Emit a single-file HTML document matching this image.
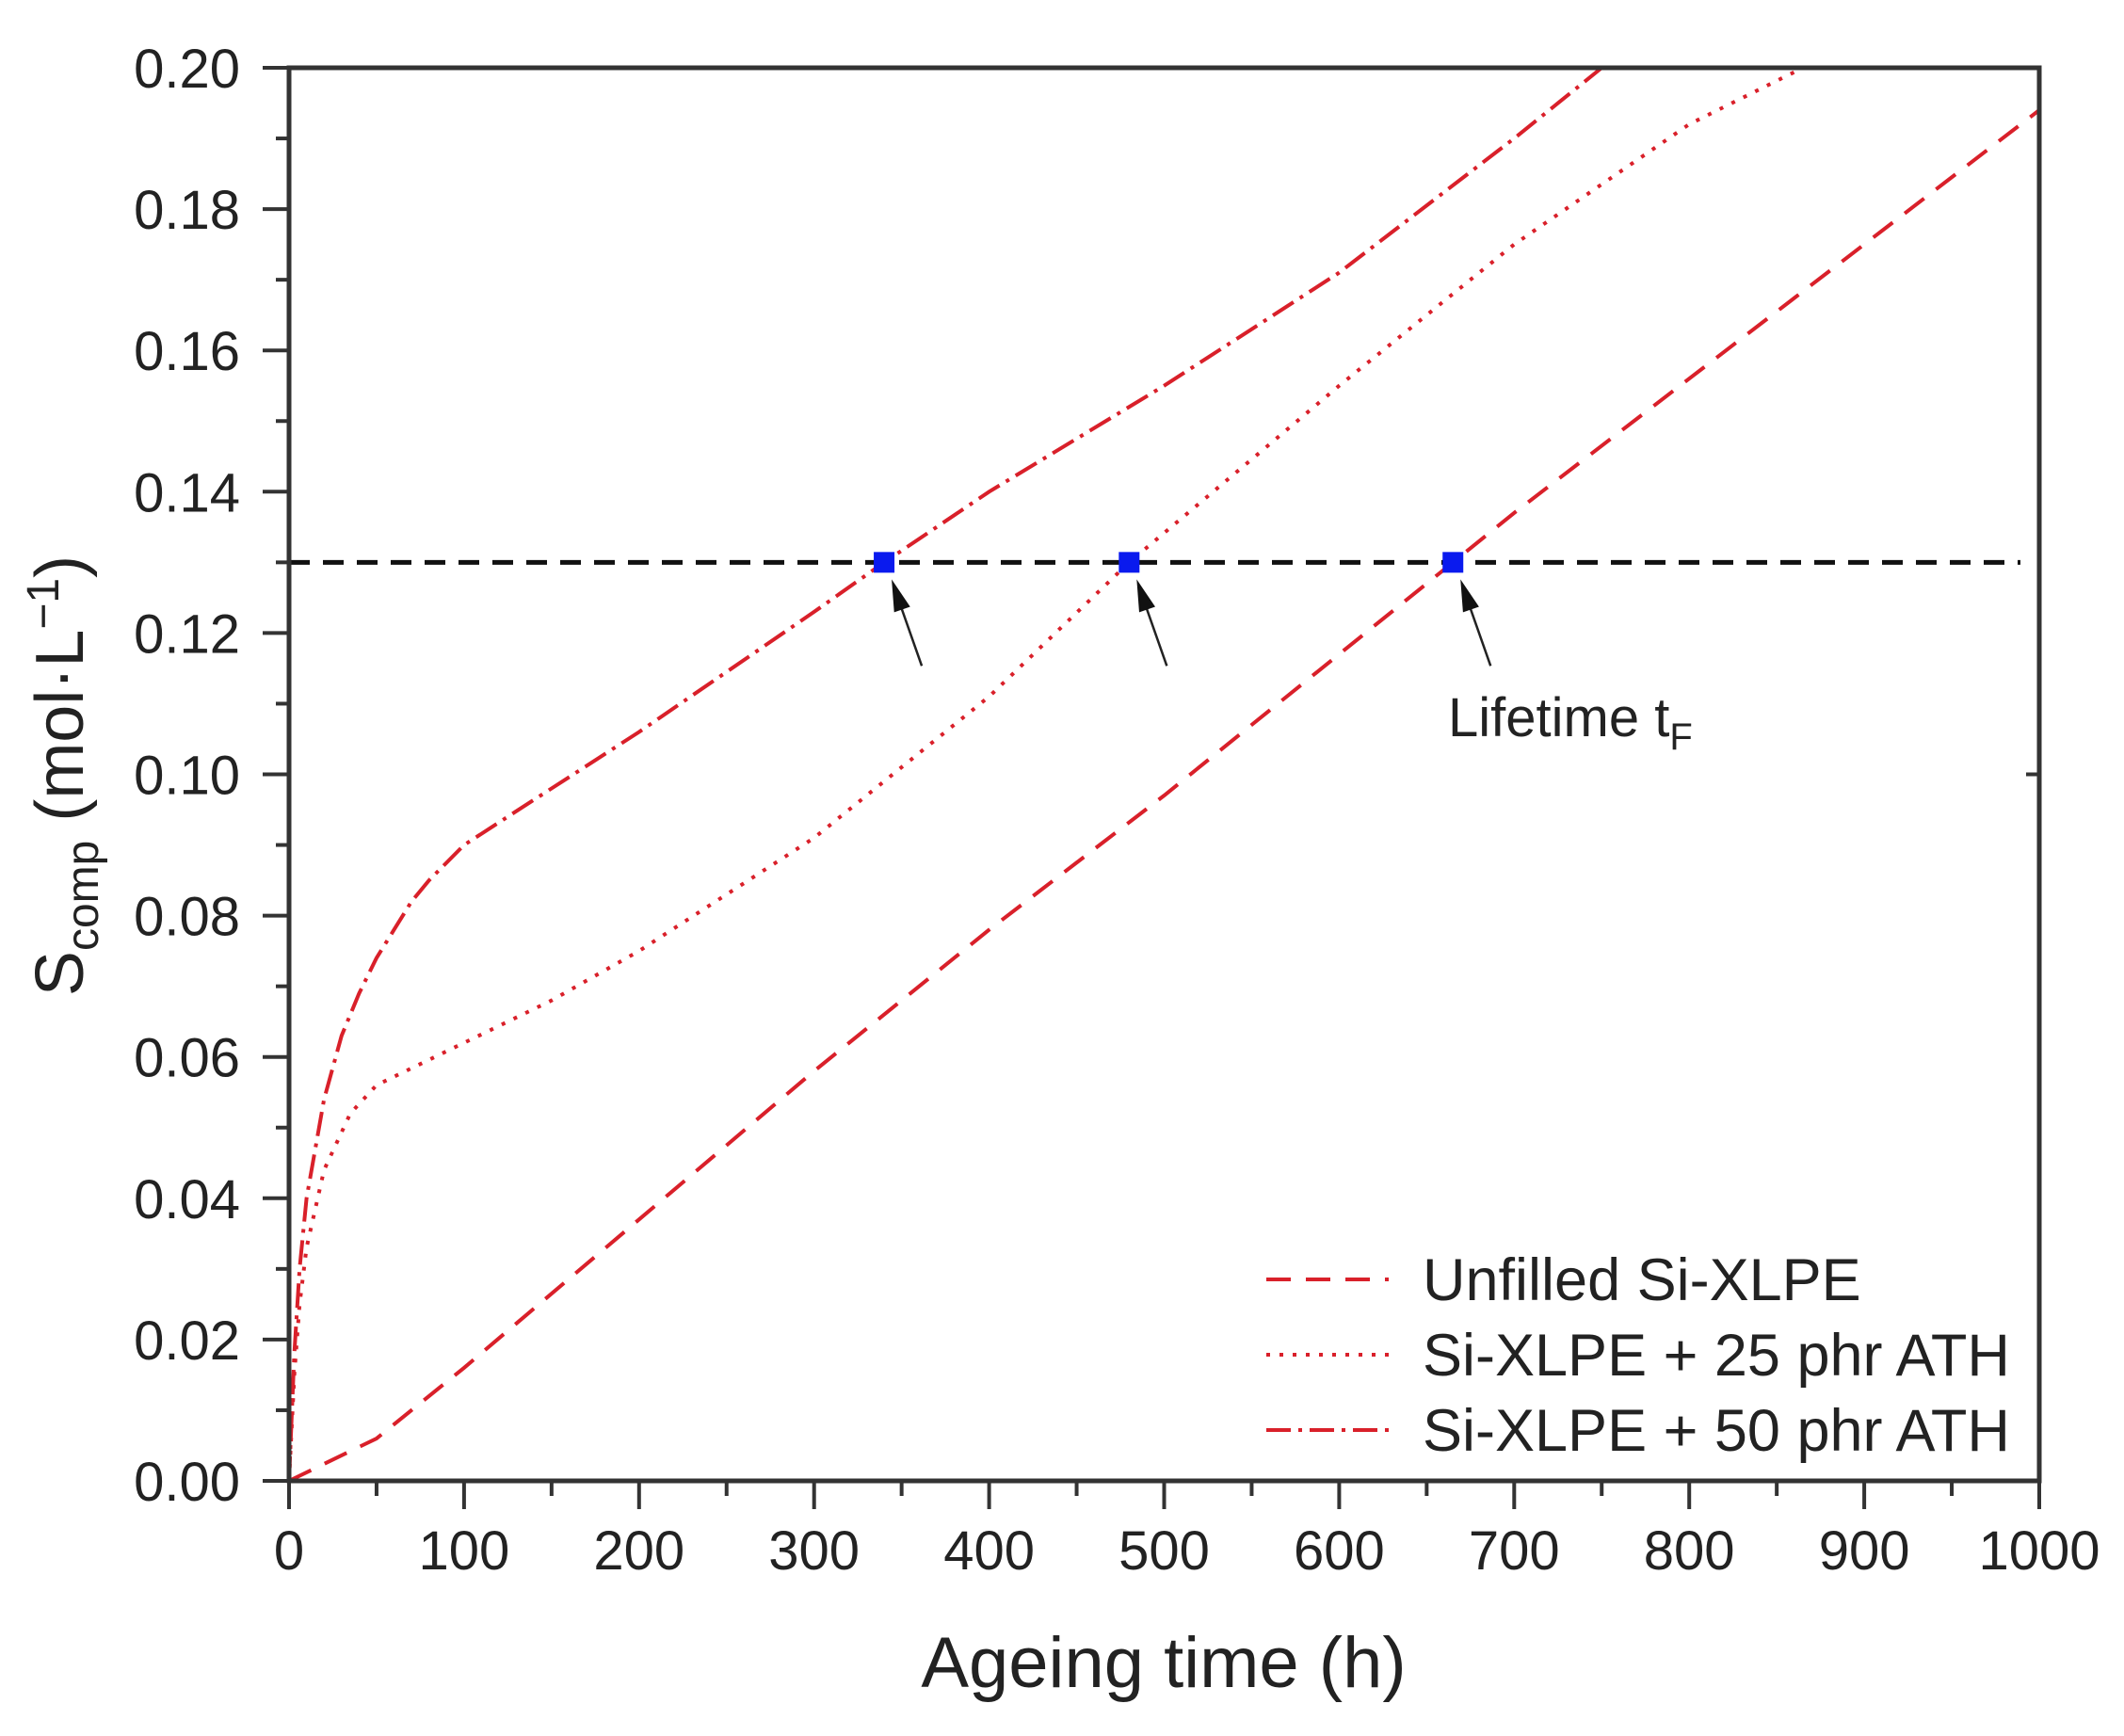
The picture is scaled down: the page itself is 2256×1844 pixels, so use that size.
<!DOCTYPE html>
<html><head><meta charset="utf-8"><style>
html,body{margin:0;padding:0;background:#fff;}
svg{display:block;font-family:"Liberation Sans",Arial,sans-serif;}
</style></head><body>
<svg id="chart" width="2256" height="1844" viewBox="0 0 2256 1844" xmlns="http://www.w3.org/2000/svg">
<g id="grid"></g><g id="series"></g><g id="axes"></g><g id="annot"></g>
</svg>
<script>
const xTicks=[0,100,200,300,400,500,600,700,800,900,1000];
const yTicks=[0,0.02,0.04,0.06,0.08,0.10,0.12,0.14,0.16,0.18,0.20];
const yTickLabels=["0.00","0.02","0.04","0.06","0.08","0.10","0.12","0.14","0.16","0.18","0.20"];
const unfilledX=[0,50,100,200,300,400,500,600,665,700,800,900,1000];
const unfilledY=[0,0.006,0.016,0.037,0.058,0.078,0.097,0.117,0.13,0.137,0.156,0.175,0.194];
const ath25X=[0,3,6,10,20,35,50,75,100,150,200,300,400,480,600,700,800,865];
const ath25Y=[0,0.015,0.025,0.033,0.044,0.052,0.056,0.059,0.062,0.068,0.075,0.091,0.111,0.13,0.155,0.175,0.192,0.2];
const ath50X=[0,3,6,10,20,30,40,50,60,70,80,100,150,200,300,340,400,500,600,700,750];
const ath50Y=[0,0.018,0.03,0.04,0.054,0.063,0.069,0.074,0.078,0.082,0.085,0.09,0.098,0.106,0.123,0.13,0.14,0.155,0.171,0.19,0.2];
const thresholdY=0.13;
const lifetimeX=[340,480,665];
const L=307,R=2166,T=72,B=1573;
const X=v=>L+(v/1000)*(R-L);
const Y=v=>B-(v/0.2)*(B-T);
const NS="http://www.w3.org/2000/svg";
function mk(tag,attrs,parent){const e=document.createElementNS(NS,tag);for(const k in attrs)e.setAttribute(k,attrs[k]);document.getElementById(parent).appendChild(e);return e;}
function path(xs,ys){return xs.map((x,i)=>(i?"L":"M")+X(x).toFixed(1)+","+Y(ys[i]).toFixed(1)).join("");}
let e;
e=mk("line",{x1:X(0),x2:X(1000)-20,y1:Y(thresholdY),y2:Y(thresholdY),stroke:"#111","stroke-width":5,"stroke-dasharray":"22 14"},"grid");


e=mk("path",{d:path(unfilledX,unfilledY),fill:"none",stroke:"#d9202a","stroke-width":4,"stroke-dasharray":"26 16"},"series");


e=mk("path",{d:path(ath25X,ath25Y),fill:"none",stroke:"#d9202a","stroke-width":4,"stroke-dasharray":"4 10"},"series");


e=mk("path",{d:path(ath50X,ath50Y),fill:"none",stroke:"#d9202a","stroke-width":4,"stroke-dasharray":"26 8 4 8"},"series");


lifetimeX.forEach((lx,i)=>{
  const m=mk("rect",{x:X(lx)-11,y:Y(thresholdY)-11,width:22,height:22,fill:"#0a1aee"},"annot");
  
  
  const x0=X(lx)+40,y0=Y(thresholdY)+110,x1=X(lx)+8,y1=Y(thresholdY)+18;
  const a=mk("line",{x1:x0,y1:y0,x2:x1+6,y2:y1+18,stroke:"#222","stroke-width":2.5},"annot");
  
  
  const ang=Math.atan2(y1-y0,x1-x0),len=34,w=9;
  const bx=x1-len*Math.cos(ang),by=y1-len*Math.sin(ang);
  const px=-Math.sin(ang)*w,py=Math.cos(ang)*w;
  const h=mk("polygon",{points:`${x1},${y1} ${bx+px},${by+py} ${bx-px},${by-py}`,fill:"#111"},"annot");
  
  
});
e=mk("text",{x:1538,y:782,"font-size":58,fill:"#222"},"annot");
e.innerHTML='Lifetime t<tspan font-size="40" dy="14">F</tspan>';


e=mk("rect",{x:L,y:T,width:R-L,height:B-T,fill:"none",stroke:"#333","stroke-width":5},"axes");


xTicks.forEach((t,i)=>{
  const k=mk("line",{x1:X(t),x2:X(t),y1:B,y2:B+30,stroke:"#333","stroke-width":4},"axes");
  
  
  if(i<xTicks.length-1){const m=mk("line",{x1:X(t+50),x2:X(t+50),y1:B,y2:B+16,stroke:"#333","stroke-width":4},"axes");
  
  }
  const l=mk("text",{x:X(t),y:B+94,"font-size":58,"text-anchor":"middle",fill:"#222"},"axes");
  l.textContent=t;
  
  
});
yTicks.forEach((t,i)=>{
  const k=mk("line",{x1:L-28,x2:L,y1:Y(t),y2:Y(t),stroke:"#333","stroke-width":4},"axes");
  
  
  if(i<yTicks.length-1){const m=mk("line",{x1:L-14,x2:L,y1:Y(t+0.01),y2:Y(t+0.01),stroke:"#333","stroke-width":4},"axes");
  
  }
  const l=mk("text",{x:L-52,y:Y(t)+21,"font-size":58,"text-anchor":"end",fill:"#222"},"axes");
  l.textContent=yTickLabels[i];
  
  
});
e=mk("line",{x1:R-14,x2:R,y1:Y(0.1),y2:Y(0.1),stroke:"#333","stroke-width":4},"axes");


e=mk("text",{x:1236,y:1792,"font-size":76,"text-anchor":"middle",fill:"#222"},"axes");
e.textContent="Ageing time (h)";


e=mk("text",{x:0,y:0,"font-size":72,"text-anchor":"middle",fill:"#222",transform:"translate(88,824) rotate(-90)"},"axes");
e.innerHTML='S<tspan font-size="48" dy="16">comp</tspan><tspan dy="-16"> (mol·L</tspan><tspan font-size="48" dy="-26">−1</tspan><tspan dy="26">)</tspan>';


const legNames=["Unfilled Si-XLPE","Si-XLPE + 25 phr ATH","Si-XLPE + 50 phr ATH"];
const legDash=["26 16","4 10","26 8 4 8"];
legNames.forEach((n,i)=>{
  const yy=1359+i*80;
  const ln=mk("line",{x1:1345,x2:1475,y1:yy,y2:yy,stroke:"#d9202a","stroke-width":4,"stroke-dasharray":legDash[i]},"annot");
  
  
  const tx=mk("text",{x:1511,y:yy+22,"font-size":63,fill:"#222"},"annot");
  tx.textContent=n;
  
  
});
</script>
</body></html>
